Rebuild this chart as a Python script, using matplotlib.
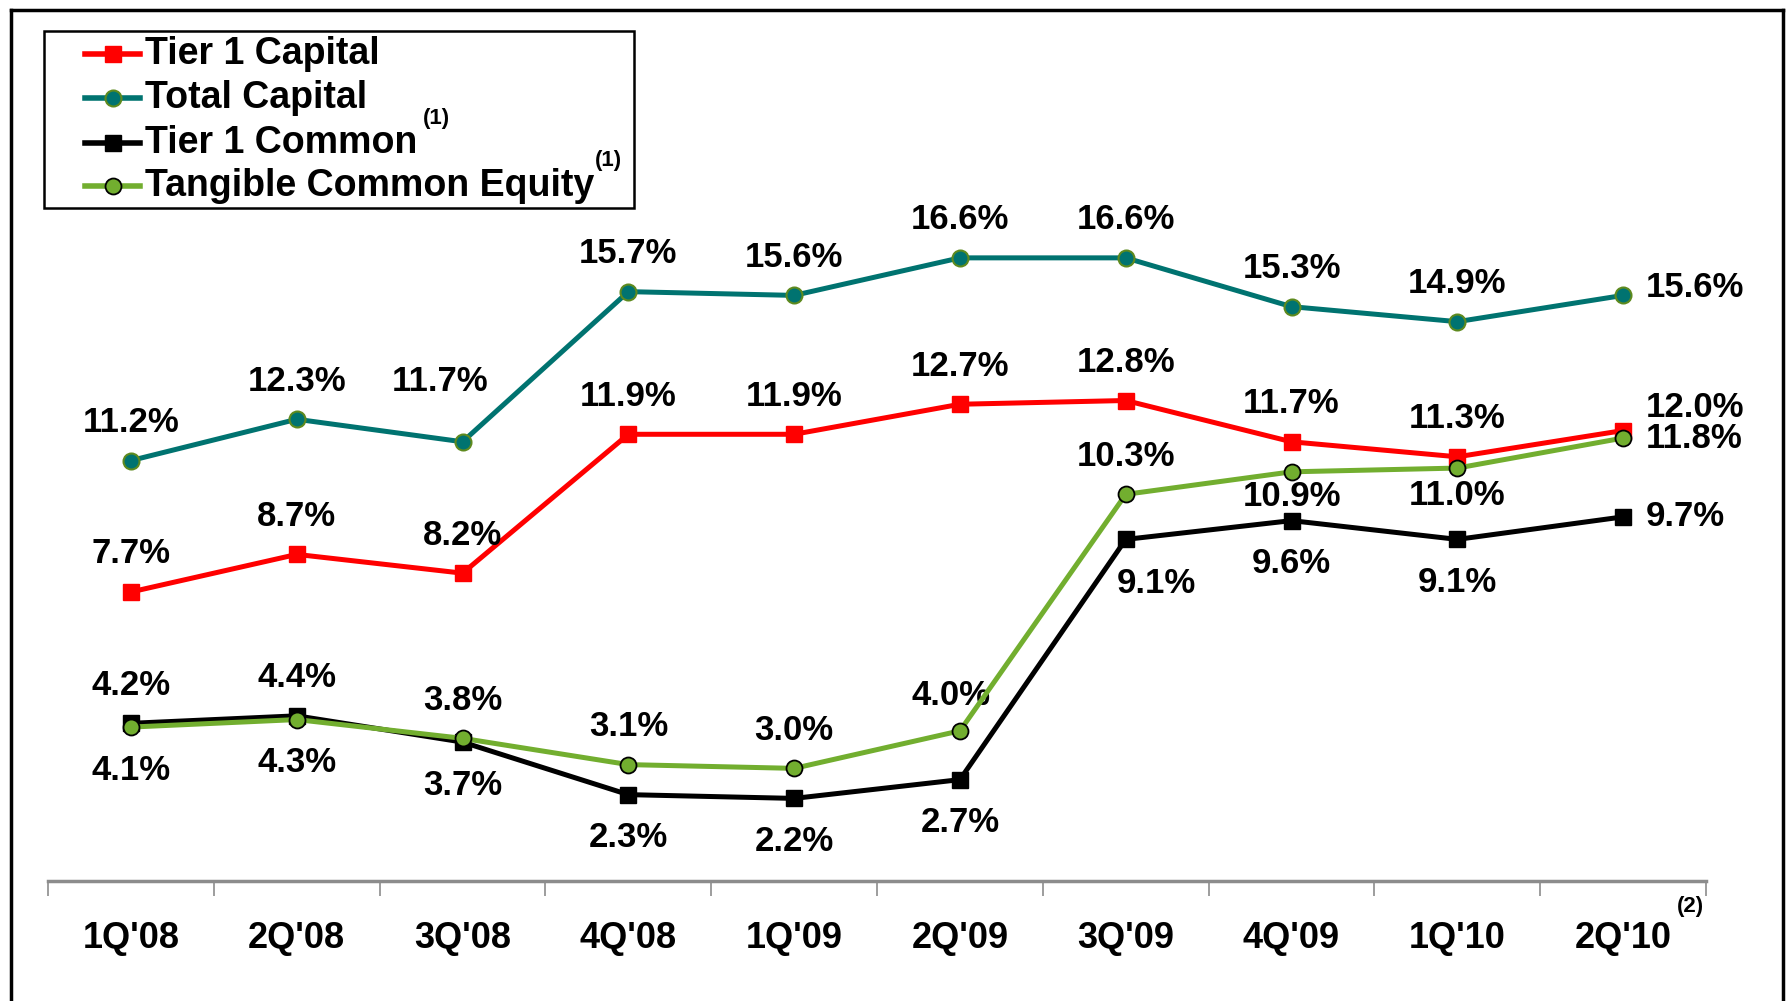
import numpy as np
import matplotlib
matplotlib.use("Agg")
import matplotlib.pyplot as plt
from matplotlib.lines import Line2D
from matplotlib.patches import Rectangle

plt.rcParams['font.family'] = ['Liberation Sans', 'DejaVu Sans']
plt.rcParams['font.weight'] = 'bold'

quarters = ["1Q'08", "2Q'08", "3Q'08", "4Q'08", "1Q'09", "2Q'09", "3Q'09", "4Q'09", "1Q'10", "2Q'10"]
tier1_capital = [7.7, 8.7, 8.2, 11.9, 11.9, 12.7, 12.8, 11.7, 11.3, 12.0]
total_capital = [11.2, 12.3, 11.7, 15.7, 15.6, 16.6, 16.6, 15.3, 14.9, 15.6]
tier1_common = [4.2, 4.4, 3.7, 2.3, 2.2, 2.7, 9.1, 9.6, 9.1, 9.7]
tce = [4.1, 4.3, 3.8, 3.1, 3.0, 4.0, 10.3, 10.9, 11.0, 11.8]

# label placement: 'a' above, 'b' below
t1c_pos = ['a', 'a', 'b', 'b', 'b', 'b', 'b', 'b', 'b']
tce_pos = ['b', 'b', 'a', 'a', 'a', 'a', 'a', 'b', 'b']

RED = '#FF0000'
TEAL = '#007370'
GREEN = '#72AE2F'
LW = 3.6

fig = plt.figure(figsize=(17.87, 10.01), dpi=100)
ax = fig.add_axes([0.0269, 0.1199, 0.9278, 0.750])
x = np.arange(len(quarters))

ax.plot(x, tier1_capital, color=RED, lw=LW, marker='s', ms=11.5, mfc=RED, mec=RED, zorder=3)
ax.plot(x, total_capital, color=TEAL, lw=LW, marker='o', ms=11.5, mfc=TEAL, mec='#5E8A1E', mew=1.5, zorder=3)
ax.plot(x, tier1_common, color='black', lw=LW, marker='s', ms=11.5, mfc='black', mec='black', zorder=3)
ax.plot(x, tce, color=GREEN, lw=LW, marker='o', ms=11.5, mfc=GREEN, mec='black', mew=1.3, zorder=4)

fs = 25
up, down = 38, -43

# a few labels are nudged in the original to keep clear of the lines
nudge = {
    ('tot', 2): (-23, 60),
    ('tce', 5): (-9, 35),
    ('t1c', 6): (31, -44),
    ('tce', 7): (0, -25),
    ('tce', 8): (0, -27),
}

def lab(key, i, yi, dy):
    dx, dy = nudge.get((key, i), (0, dy))
    ax.annotate(f'{yi:.1f}%', (x[i], yi), xytext=(dx, dy), textcoords='offset pixels',
                ha='center', va='center', fontsize=fs, fontweight='bold')

for i in range(9):
    lab('tot', i, total_capital[i], up)
    lab('t1', i, tier1_capital[i], up)
    lab('t1c', i, tier1_common[i], up if t1c_pos[i] == 'a' else down)
    lab('tce', i, tce[i], up if tce_pos[i] == 'a' else down)

# last quarter labels to the right
last = len(quarters) - 1
for vals, dy in [(total_capital, 8), (tier1_capital, 23), (tce, 0), (tier1_common, 0)]:
    ax.annotate(f'{vals[last]:.1f}%', (x[last], vals[last]), xytext=(23, dy), textcoords='offset pixels',
                ha='left', va='center', fontsize=fs, fontweight='bold')

ax.set_xlim(-0.5, 9.5)
ax.set_ylim(0, 20)
for s in ['top', 'right', 'left']:
    ax.spines[s].set_visible(False)
ax.spines['bottom'].set_color('#8C8C8C')
ax.spines['bottom'].set_linewidth(2.5)
ax.set_yticks([])
ax.set_xticks(np.arange(-0.5, 10, 1.0))
ax.set_xticklabels([])
ax.tick_params(axis='x', which='major', length=11, width=1.2, color='#8C8C8C')
ax.set_xticks(x, minor=True)
ax.set_xticklabels(quarters, minor=True, fontsize=26, fontweight='bold')
ax.tick_params(axis='x', which='minor', length=0, pad=29)

# footnote on last tick label
fig.text(0.9458, 0.0945, '(2)', fontsize=16, fontweight='bold', ha='center', va='center')

# legend, drawn by hand in figure coordinates
fig.add_artist(Rectangle((0.0249, 0.7927), 0.3297, 0.1765, transform=fig.transFigure,
                         fill=False, edgecolor='black', lw=1.8))
leg_rows = [
    ('Tier 1 Capital', dict(color=RED, marker='s', mfc=RED, mec=RED)),
    ('Total Capital', dict(color=TEAL, marker='o', mfc=TEAL, mec='#5E8A1E', mew=1.5)),
    ('Tier 1 Common', dict(color='black', marker='s', mfc='black', mec='black')),
    ('Tangible Common Equity', dict(color=GREEN, marker='o', mfc=GREEN, mec='black', mew=1.3)),
]
row_y = [0.9465, 0.9021, 0.8576, 0.8144]
for (name, style), ry in zip(leg_rows, row_y):
    fig.add_artist(Line2D([0.0478, 0.0784], [ry, ry], transform=fig.transFigure, lw=4.0,
                          color=style['color']))
    fig.add_artist(Line2D([0.0631], [ry], transform=fig.transFigure, ls='none', ms=11.5, **style))
    fig.text(0.081, ry, name, fontsize=27, fontweight='bold', ha='left', va='center')
fig.text(0.2443, 0.8815, '(1)', fontsize=16, fontweight='bold', ha='center', va='center')
fig.text(0.3406, 0.8394, '(1)', fontsize=16, fontweight='bold', ha='center', va='center')

# outer border (left, top, right)
for xs, ys in [([0.0062, 0.0062], [0.0, 0.990]), ([0.0062, 0.9975], [0.990, 0.990]), ([0.9975, 0.9975], [0.990, 0.0])]:
    fig.add_artist(Line2D(xs, ys, transform=fig.transFigure, color='black', lw=2.5))

fig.savefig('out.png', dpi=100)
